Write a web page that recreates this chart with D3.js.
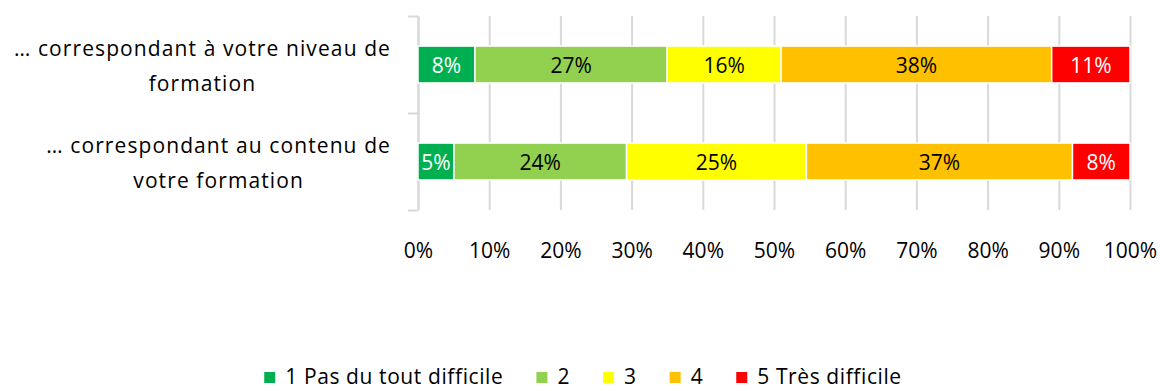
<!DOCTYPE html>
<html>
<head>
<meta charset="utf-8">
<script src="https://cdn.jsdelivr.net/npm/d3@7"></script>
<style>
  html, body { margin: 0; padding: 0; background: #fff; }
  svg { display: block; font-family: "Open Sans", "Noto Sans", sans-serif; }
</style>
</head>
<body>
<svg id="chart" width="1160" height="391"></svg>
<script>
// Questions (each drawn on two lines)
const categories = ["niveau", "contenu"];
const categoryLines = [
  ["… correspondant à votre niveau de", "formation"],
  ["…  correspondant au contenu de", "votre formation"]
];
// Answer scale
const seriesKeys = ["s1", "s2", "s3", "s4", "s5"];
const seriesNames = ["1 Pas du tout difficile", "2", "3", "4", "5 Très difficile"];
const seriesColors = ["#00B050", "#92D050", "#FFFF00", "#FFC000", "#FF0000"];
const labelColors = ["#ffffff", "#000000", "#000000", "#000000", "#ffffff"];
// Percent of answers per question
const s1 = [8, 5];
const s2 = [27, 24];
const s3 = [16, 25];
const s4 = [38, 37];
const s5 = [11, 8];
const tickValues = [0, 0.1, 0.2, 0.3, 0.4, 0.5, 0.6, 0.7, 0.8, 0.9, 1];

const rows = categories.map((c, i) => ({
  cat: c, s1: s1[i], s2: s2[i], s3: s3[i], s4: s4[i], s5: s5[i]
}));

const svg = d3.select("#chart");
const plot = { left: 418, right: 1130, top: 16, bottom: 210 };

const x = d3.scaleLinear().domain([0, 1]).range([plot.left, plot.right]);
const y = d3.scaleBand().domain(categories)
  .range([plot.top, plot.bottom]).paddingInner(0.62).paddingOuter(0.31);
const yEdge = d3.scaleLinear().domain([0, categories.length]).range([plot.top, plot.bottom]);

// 100% stacked layout
const stacked = d3.stack().keys(seriesKeys).offset(d3.stackOffsetExpand)(rows);

// Vertical gridlines + percent labels
const xAxis = svg.append("g")
  .attr("transform", `translate(0,${plot.bottom})`)
  .call(d3.axisBottom(x).tickValues(tickValues).tickFormat(d3.format(".0%"))
    .tickSize(-(plot.bottom - plot.top)).tickSizeOuter(0));
xAxis.select(".domain").remove();
xAxis.selectAll(".tick line").attr("stroke", "#D9D9D9").attr("stroke-width", 2);
xAxis.selectAll(".tick text")
  .attr("y", 48).attr("dy", null)
  .attr("fill", "#000").attr("font-size", 21).attr("font-family", "'Open Sans', sans-serif");

// Category axis with ticks between questions
const yAxis = svg.append("g")
  .attr("transform", `translate(${plot.left},0)`)
  .call(d3.axisLeft(yEdge).tickValues(d3.range(categories.length + 1))
    .tickFormat("").tickSize(10).tickSizeOuter(0));
yAxis.select(".domain").attr("stroke", "#D9D9D9").attr("stroke-width", 2);
yAxis.selectAll(".tick line").attr("stroke", "#D9D9D9").attr("stroke-width", 2);

// Bars
const layers = svg.append("g").selectAll("g")
  .data(stacked).join("g")
  .attr("fill", (d, i) => seriesColors[i]);

layers.selectAll("rect")
  .data(d => d).join("rect")
  .attr("x", d => x(d[0]))
  .attr("y", d => y(d.data.cat))
  .attr("width", d => x(d[1]) - x(d[0]))
  .attr("height", y.bandwidth())
  .attr("stroke", "#fff").attr("stroke-width", 1.5);

// Value labels
layers.each(function (layer, i) {
  d3.select(this).selectAll("text")
    .data(layer).join("text")
    .attr("x", d => (x(d[0]) + x(d[1])) / 2)
    .attr("y", d => y(d.data.cat) + y.bandwidth() / 2 + 8)
    .attr("text-anchor", "middle")
    .attr("font-size", 21)
    .attr("fill", labelColors[i])
    .text(d => d.data[layer.key] + "%");
});

// Question labels
categories.forEach((c, i) => {
  const cy = y(c) + y.bandwidth() / 2;
  const g = svg.append("g").attr("font-size", 21).attr("letter-spacing", 1.1).attr("fill", "#000");
  const first = g.append("text")
    .attr("x", 391).attr("y", cy - 9)
    .attr("text-anchor", "end")
    .text(categoryLines[i][0]);
  const w = first.node().getComputedTextLength();
  g.append("text")
    .attr("x", 391 - w / 2).attr("y", cy + 26)
    .attr("text-anchor", "middle")
    .text(categoryLines[i][1]);
});

// Legend
const legend = svg.append("g").attr("font-size", 21).attr("letter-spacing", 0.6);
let lx = 0;
seriesNames.forEach((name, i) => {
  const g = legend.append("g").attr("transform", `translate(${lx},0)`);
  g.append("rect").attr("x", 0).attr("y", -12).attr("width", 11).attr("height", 11)
    .attr("fill", seriesColors[i]);
  const t = g.append("text").attr("x", 21).attr("y", 0).text(name);
  lx += 21 + t.node().getComputedTextLength() + 33;
});
const legendWidth = lx - 33;
legend.attr("transform", `translate(${583 - legendWidth / 2},384)`);
</script>
</body>
</html>
